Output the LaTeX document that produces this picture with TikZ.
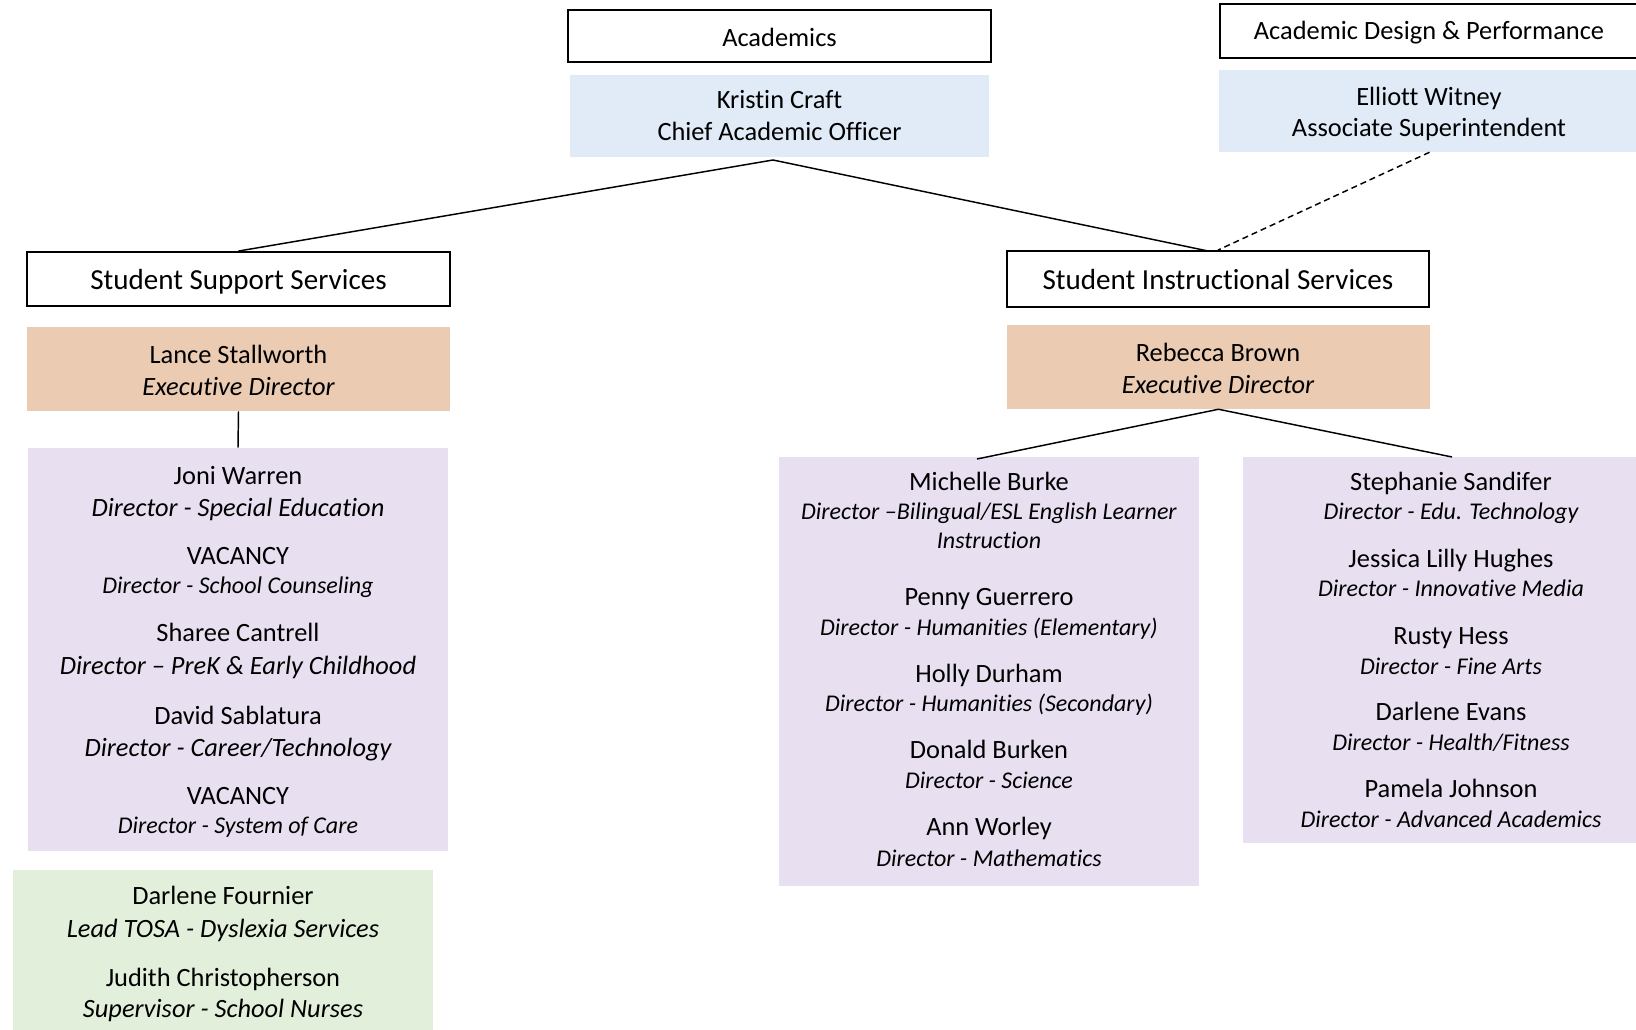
\documentclass[tikz,border=0pt]{standalone}
\usepackage{fontspec}
\setmainfont{Carlito}[Ligatures=NoCommon]
\usetikzlibrary{fit}
\definecolor{cblue}{RGB}{224,235,247}
\definecolor{cpeach}{RGB}{235,203,178}
\definecolor{clav}{RGB}{232,224,240}
\definecolor{cgreen}{RGB}{226,239,218}
\tikzset{
  hbox/.style={draw=black, line width=1.4pt, inner sep=0pt},
  fbox/.style={inner sep=0pt, draw=none},
  ln/.style={inner sep=0pt, text height=0.644em, text depth=0pt, anchor=center, yshift=-3.6pt},
  nm/.style={ln, font=\fontsize{19.8}{24}\selectfont},
  big/.style={ln, font=\fontsize{21.8}{26}\selectfont},
  tl/.style={ln, font=\fontsize{19.8}{24}\selectfont\itshape},
  ts/.style={ln, font=\fontsize{18}{22}\selectfont\itshape},
  conn/.style={draw=black, line width=1.1pt},
  dconn/.style={draw=black, line width=1.1pt, dash pattern=on 4.5pt off 3pt}
}
\begin{document}
\begin{tikzpicture}[x=0.75pt, y=-0.75pt]
\useasboundingbox (0,0) rectangle (1636,1030);
\fill[white] (0,0) rectangle (1636,1030);

% top headers
\node[hbox, fit={(568,10) (991,62)}] (acad) {};
\node[nm] (acadT) at (779.5,37) {Academics};
\node[fbox, fill=cblue, fit={(570,75) (989,157)}] (kristin) {};
\node[nm] (kristinN) at (779.5,99) {Kristin Craft};
\node[nm] (kristinT) at (779.5,131) {Chief Academic Officer};

\node[hbox, fit={(1220,4) (1640,58)}] (adp) {};
\node[nm] (adpT) at (1429,30) {Academic Design \& Performance};
\node[fbox, fill=cblue, fit={(1219,70) (1640,152)}] (elliott) {};
\node[nm] (elliottN) at (1429,96) {Elliott Witney};
\node[nm] (elliottT) at (1429,127) {Associate Superintendent};

% student support services
\node[hbox, fit={(27,252) (450,306)}] (sss) {};
\node[big] (sssT) at (238.5,280) {Student Support Services};
\node[fbox, fill=cpeach, fit={(27,327) (450,411)}] (lance) {};
\node[nm] (lanceN) at (238.5,354) {Lance Stallworth};
\node[tl] (lanceT) at (238.5,386) {Executive Director};

\node[fbox, fill=clav, fit={(28,448) (448,851)}] (lp) {};
\node[nm] (joniN) at (238,475) {Joni Warren};
\node[tl] (joniT) at (238,507) {Director - Special Education};
\node[nm] (vac1N) at (238,555) {VACANCY};
\node[ts] (vac1T) at (238,584) {Director - School Counseling};
\node[nm] (shareeN) at (238,632) {Sharee Cantrell};
\node[tl] (shareeT) at (238,665) {Director – PreK \& Early Childhood};
\node[nm] (davidN) at (238,715) {David Sablatura};
\node[tl] (davidT) at (238,747) {Director - Career/Technology};
\node[nm] (vac2N) at (238,795) {VACANCY};
\node[ts] (vac2T) at (238,824) {Director - System of Care};

\node[fbox, fill=cgreen, fit={(13,870) (433,1035)}] (gp) {};
\node[nm] (darlfN) at (223,895) {Darlene Fournier};
\node[tl] (darlfT) at (223,928) {Lead TOSA - Dyslexia Services};
\node[nm] (judithN) at (223,977) {Judith Christopherson};
\node[tl] (judithT) at (223,1008) {Supervisor - School Nurses};

% student instructional services
\node[hbox, fit={(1007,251) (1429,307)}] (sis) {};
\node[big] (sisT) at (1218,280) {Student Instructional Services};
\node[fbox, fill=cpeach, fit={(1007,325) (1430,409)}] (rebecca) {};
\node[nm] (rebeccaN) at (1218,352) {Rebecca Brown};
\node[tl] (rebeccaT) at (1218,384) {Executive Director};

\node[fbox, fill=clav, fit={(779,457) (1199,886)}] (mp) {};
\node[nm] (michelleN) at (989,481) {Michelle Burke};
\node[ts] (michelleT) at (989,510) {Director –Bilingual/ESL English Learner};
\node[ts] (michelleT2) at (989,539) {Instruction};
\node[nm] (pennyN) at (989,596) {Penny Guerrero};
\node[ts] (pennyT) at (989,626) {Director - Humanities (Elementary)};
\node[nm] (hollyN) at (989,673) {Holly Durham};
\node[ts] (hollyT) at (989,702) {Director - Humanities (Secondary)};
\node[nm] (donaldN) at (989,749) {Donald Burken};
\node[ts] (donaldT) at (989,779) {Director - Science};
\node[nm] (annN) at (989,826) {Ann Worley};
\node[ts] (annT) at (989,857) {Director - Mathematics};

\node[fbox, fill=clav, fit={(1243,457) (1660,843)}] (rp) {};
\node[nm] (stephN) at (1451,481) {Stephanie Sandifer};
\node[ts] (stephT) at (1451,510) {Director - Edu. Technology};
\node[nm] (jessN) at (1451,558) {Jessica Lilly Hughes};
\node[ts] (jessT) at (1451,587) {Director - Innovative Media};
\node[nm] (rustyN) at (1451,635) {Rusty Hess};
\node[ts] (rustyT) at (1451,665) {Director - Fine Arts};
\node[nm] (darleN) at (1451,711) {Darlene Evans};
\node[ts] (darleT) at (1451,741) {Director - Health/Fitness};
\node[nm] (pamN) at (1451,788) {Pamela Johnson};
\node[ts] (pamT) at (1451,818) {Director - Advanced Academics};

% connectors
\coordinate (kapex) at (773,160);
\coordinate (sisin) at (1208,251);
\coordinate (mpin) at (977,459);
\coordinate (rpin) at (1452,457);
\draw[conn] (sss.north) -- (kapex) -- (sisin);
\draw[dconn] (elliott.south) -- (sis.north);
\draw[conn] (lance.south) -- (lp.north);
\draw[conn] (mpin) -- (rebecca.south) -- (rpin);
\end{tikzpicture}
\end{document}
